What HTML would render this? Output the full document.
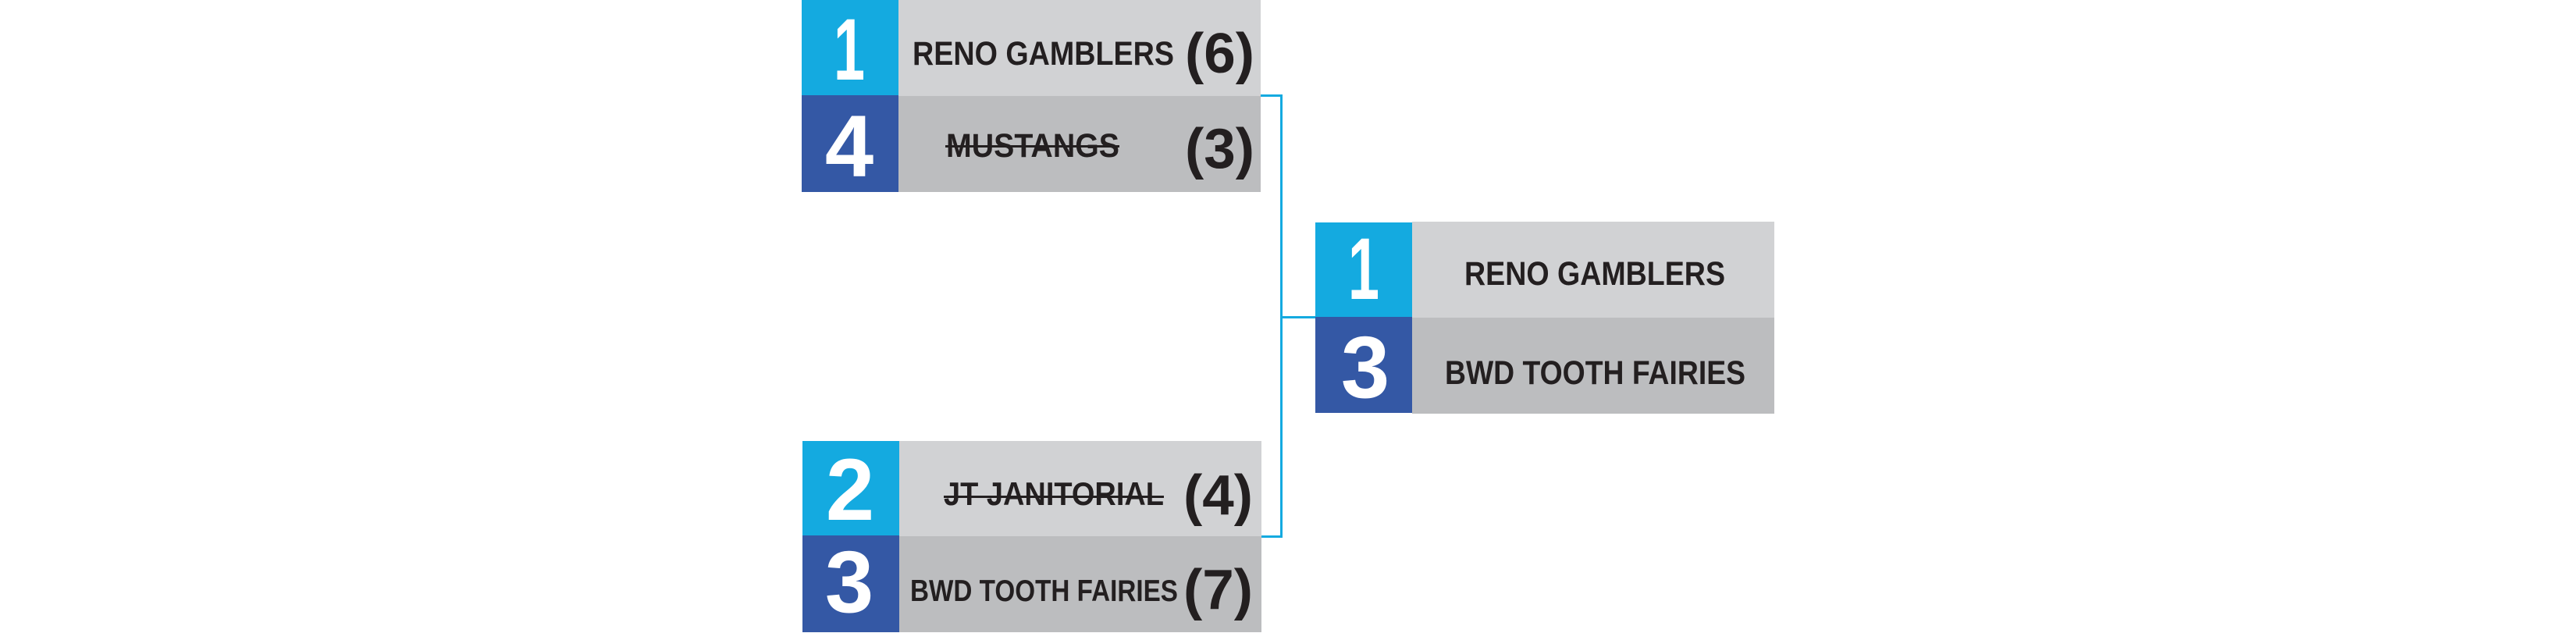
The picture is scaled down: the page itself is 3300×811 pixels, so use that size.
<!DOCTYPE html>
<html>
<head>
<meta charset="utf-8">
<style>
  html, body { margin: 0; padding: 0; background: #ffffff; }
  body { width: 3300px; height: 811px; overflow: hidden; }
  svg { display: block; }
  .num { font-family: "Liberation Sans", sans-serif; font-weight: bold; fill: #ffffff; }
  .name { font-family: "Liberation Sans", sans-serif; font-weight: bold; fill: #231f20; }
</style>
</head>
<body>
<svg width="3300" height="811" viewBox="0 0 3300 811" xmlns="http://www.w3.org/2000/svg">
  <rect x="0" y="0" width="3300" height="811" fill="#ffffff"/>

  <!-- Connectors -->
  <g fill="#14aae0">
    <rect x="1614" y="121" width="29" height="3"/>
    <rect x="1640" y="121" width="3" height="568"/>
    <rect x="1640" y="405" width="46" height="3"/>
    <rect x="1614" y="686" width="29" height="3"/>
  </g>

  <!-- Group 1 (top-left) -->
  <rect x="1151" y="0" width="464" height="123" fill="#d1d2d4"/>
  <rect x="1151" y="123" width="464" height="123" fill="#bcbdbf"/>
  <rect x="1027" y="0" width="124" height="122" fill="#14aae0"/>
  <rect x="1027" y="122" width="124" height="124" fill="#3458a5"/>
  <text class="num" x="1068" y="102" font-size="112" textLength="40" lengthAdjust="spacingAndGlyphs">1</text>
  <text class="num" x="1088" y="226" font-size="112" text-anchor="middle">4</text>
  <text class="name" x="1169" y="83" font-size="43" textLength="335" lengthAdjust="spacingAndGlyphs">RENO GAMBLERS</text>
  <text class="name" x="1518" y="93" font-size="72" textLength="89" lengthAdjust="spacingAndGlyphs">(6)</text>
  <text class="name" x="1212" y="201" font-size="43" textLength="222" lengthAdjust="spacingAndGlyphs">MUSTANGS</text>
  <rect x="1211" y="186" width="223" height="3" fill="#231f20"/>
  <text class="name" x="1518" y="215" font-size="72" textLength="89" lengthAdjust="spacingAndGlyphs">(3)</text>

  <!-- Group 2 (bottom-left) -->
  <rect x="1152" y="565" width="464" height="122" fill="#d1d2d4"/>
  <rect x="1152" y="687" width="464" height="123" fill="#bcbdbf"/>
  <rect x="1028" y="565" width="124" height="121" fill="#14aae0"/>
  <rect x="1028" y="686" width="124" height="124" fill="#3458a5"/>
  <text class="num" x="1089" y="666" font-size="112" text-anchor="middle">2</text>
  <text class="num" x="1088" y="784" font-size="112" text-anchor="middle">3</text>
  <text class="name" x="1209" y="647" font-size="42" textLength="282" lengthAdjust="spacingAndGlyphs">JT JANITORIAL</text>
  <rect x="1209" y="635" width="282" height="3" fill="#231f20"/>
  <text class="name" x="1516" y="659" font-size="72" textLength="89" lengthAdjust="spacingAndGlyphs">(4)</text>
  <text class="name" x="1166" y="770" font-size="39" textLength="343" lengthAdjust="spacingAndGlyphs">BWD TOOTH FAIRIES</text>
  <text class="name" x="1516" y="780" font-size="72" textLength="89" lengthAdjust="spacingAndGlyphs">(7)</text>

  <!-- Group 3 (right / final) -->
  <rect x="1809" y="284" width="464" height="123" fill="#d1d2d4"/>
  <rect x="1809" y="407" width="464" height="123" fill="#bcbdbf"/>
  <rect x="1685" y="285" width="124" height="121" fill="#14aae0"/>
  <rect x="1685" y="406" width="124" height="123" fill="#3458a5"/>
  <text class="num" x="1727" y="383" font-size="112" textLength="40" lengthAdjust="spacingAndGlyphs">1</text>
  <text class="num" x="1749" y="509" font-size="112" text-anchor="middle">3</text>
  <text class="name" x="1876" y="365" font-size="43" textLength="334" lengthAdjust="spacingAndGlyphs">RENO GAMBLERS</text>
  <text class="name" x="1851" y="492" font-size="43" textLength="385" lengthAdjust="spacingAndGlyphs">BWD TOOTH FAIRIES</text>
</svg>
</body>
</html>
